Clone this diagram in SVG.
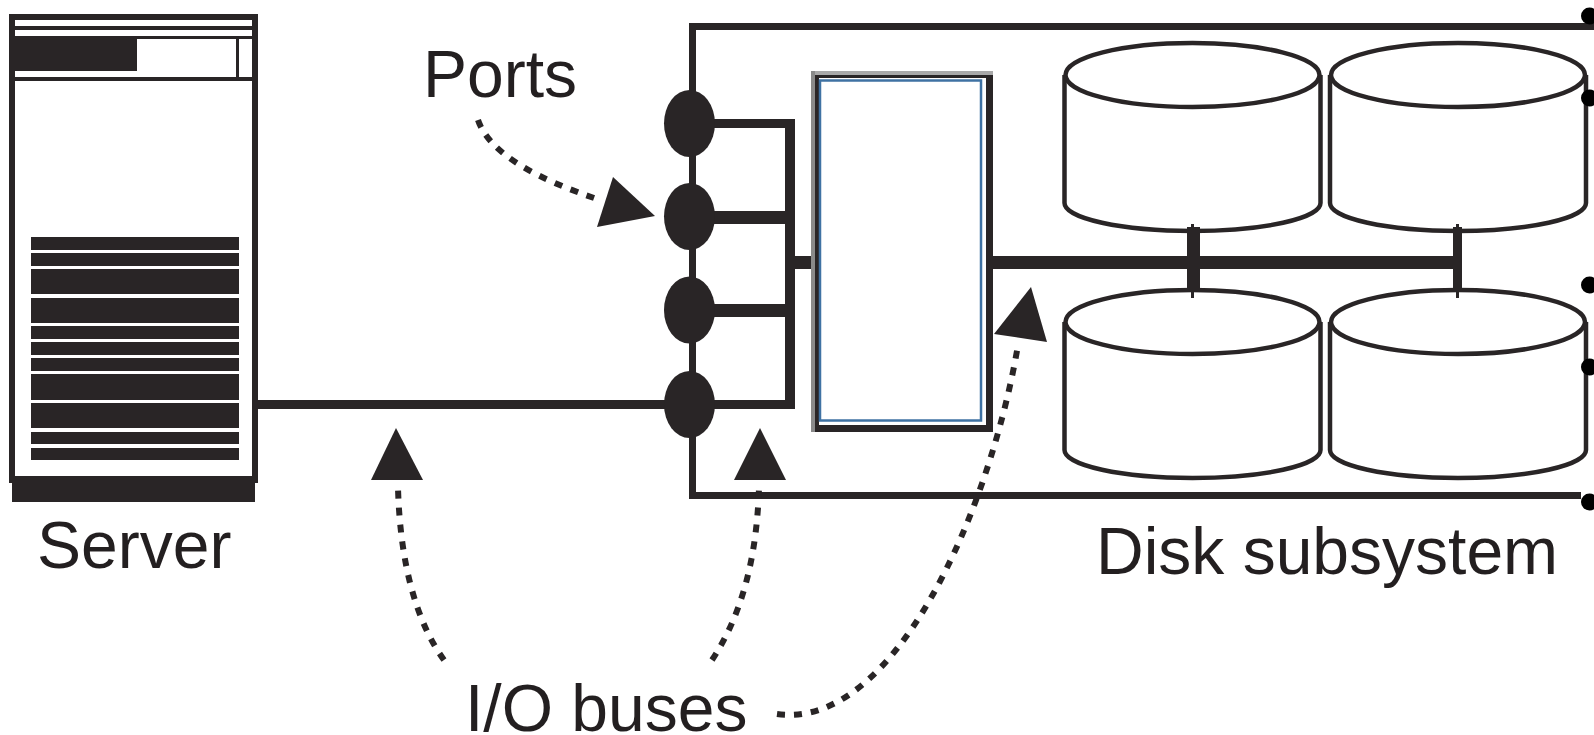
<svg xmlns="http://www.w3.org/2000/svg" width="1594" height="735" viewBox="0 0 1594 735">
<style>
.k{fill:#292526}
.f{fill:none;stroke:#292526;stroke-width:7}
.cyl{fill:none;stroke:#292526;stroke-width:4.5}
.bus{fill:#292526}
.dash{fill:none;stroke:#292526;stroke-width:6;stroke-dasharray:8 9}
.lbl{font-family:"Liberation Sans",Arial,sans-serif;font-size:66px;fill:#231f20}
.dot{fill:#000}
</style>
<defs>
<g id="cylTop"><ellipse class="cyl" cx="0" cy="0" rx="127" ry="32"/><path class="cyl" d="M-128,0V128A128,28 0 0 0 128,128V0"/></g>
</defs>
<rect width="1594" height="735" fill="#fff"/>
<g id="server">
<rect class="k" x="12" y="483" width="243" height="19"/>
<path class="k" fill-rule="evenodd" d="M9,14H258V483H9ZM15,20V476H252V20Z"/>
<rect class="k" x="15" y="26" width="237" height="4"/>
<rect class="k" x="15" y="36" width="237" height="3"/>
<rect class="k" x="15" y="36" width="122" height="35"/>
<rect class="k" x="15" y="77" width="237" height="4"/>
<rect class="k" x="236" y="39" width="3" height="38"/>
<rect class="k" x="31" y="237" width="208" height="13"/>
<rect class="k" x="31" y="253" width="208" height="13"/>
<rect class="k" x="31" y="269" width="208" height="25"/>
<rect class="k" x="31" y="298" width="208" height="25"/>
<rect class="k" x="31" y="326" width="208" height="13"/>
<rect class="k" x="31" y="342" width="208" height="13"/>
<rect class="k" x="31" y="358" width="208" height="13"/>
<rect class="k" x="31" y="374" width="208" height="26"/>
<rect class="k" x="31" y="403" width="208" height="25"/>
<rect class="k" x="31" y="432" width="208" height="12"/>
<rect class="k" x="31" y="448" width="208" height="12"/>
<text class="lbl" x="37" y="568">Server</text>
</g>
<g id="disk-subsystem">
<path class="f" d="M1594,26.5H692.5V495.5H1581"/>
<text class="lbl" x="1096" y="574">Disk subsystem</text>
</g>
<g id="disk-1"><use href="#cylTop" x="1192.5" y="75"/></g>
<g id="disk-2"><use href="#cylTop" x="1458" y="75"/></g>
<g id="disk-3"><use href="#cylTop" x="1192.5" y="322"/></g>
<g id="disk-4"><use href="#cylTop" x="1458" y="322"/></g>
<g id="connectors">
<rect class="bus" x="258" y="400" width="432" height="9"/>
<rect class="bus" x="690" y="119" width="105" height="9"/>
<rect class="bus" x="690" y="211" width="100" height="13"/>
<rect class="bus" x="690" y="304" width="100" height="13"/>
<rect class="bus" x="690" y="400" width="105" height="9"/>
<rect class="bus" x="785" y="119" width="10" height="290"/>
<rect class="bus" x="795" y="256" width="20" height="13"/>
<rect class="bus" x="993" y="256" width="460" height="13"/>
<rect class="bus" x="1187" y="227" width="13" height="61"/>
<rect class="bus" x="1191" y="224" width="3" height="74"/>
<rect class="bus" x="1453" y="227" width="9" height="61"/>
<rect class="bus" x="1456" y="224" width="3" height="74"/>
<path class="dash" d="M478,120C490,155 540,180 600,200"/>
<polygon class="k" points="655,216 613,177 597,227"/>
<path class="dash" d="M444,660C415,620 400,560 398,488"/>
<polygon class="k" points="396,428 371,480 423,480"/>
<path class="dash" d="M712,660C745,610 757,550 759,488"/>
<polygon class="k" points="760,428 734,480 786,480"/>
<path class="dash" d="M777,714C895,730 990,510 1018,345"/>
<polygon class="k" points="1031,287 994,334 1047,342"/>
</g>
<g id="controller">
<rect x="811" y="71" width="182" height="361" fill="#8a8a8a"/>
<rect x="815" y="71" width="178" height="4" fill="#a9a9a9"/>
<rect class="k" x="815" y="75" width="178" height="357"/>
<rect x="819" y="78" width="167" height="347" fill="#fff"/>
<rect x="820" y="80.5" width="161" height="340" fill="#fff" stroke="#3f72a3" stroke-width="2.5"/>
</g>
<g id="port-1"><ellipse class="k" cx="689.5" cy="123.5" rx="25.5" ry="33.5"/></g>
<g id="port-2"><ellipse class="k" cx="689.5" cy="216.5" rx="25.5" ry="33.5"/></g>
<g id="port-3"><ellipse class="k" cx="689.5" cy="310" rx="25.5" ry="33.5"/></g>
<g id="port-4"><ellipse class="k" cx="689.5" cy="404.5" rx="25.5" ry="33.5"/></g>
<g id="labels">
<text class="lbl" x="423" y="97">Ports</text>
<text class="lbl" x="465" y="731">I/O buses</text>
</g>
<g id="margin-dots">
<circle class="dot" cx="1589.5" cy="16" r="8.5"/>
<circle class="dot" cx="1589.5" cy="98" r="8.5"/>
<circle class="dot" cx="1589.5" cy="285" r="8.5"/>
<circle class="dot" cx="1589.5" cy="367" r="8.5"/>
<circle class="dot" cx="1589.5" cy="502" r="8.5"/>
</g>
</svg>
